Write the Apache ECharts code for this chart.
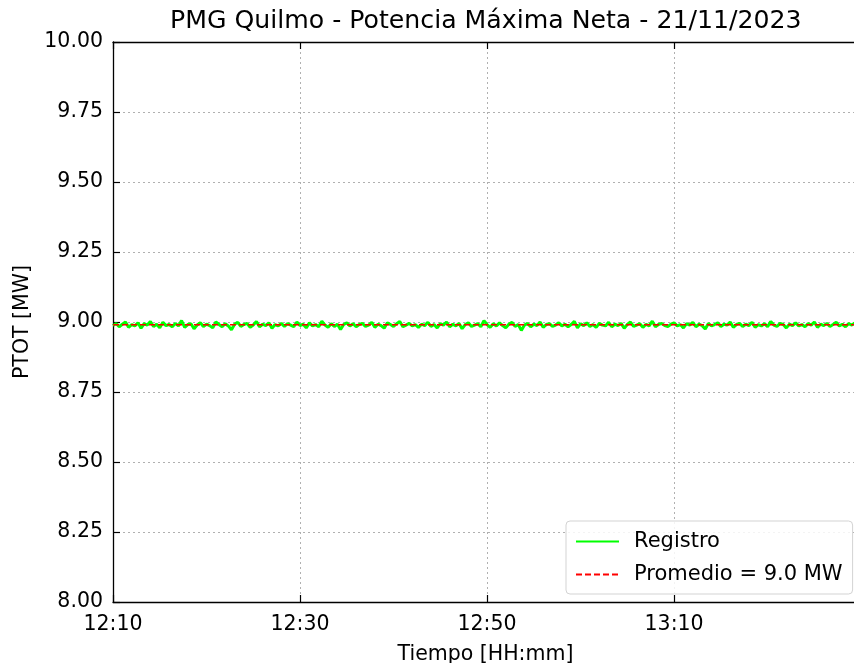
<!DOCTYPE html>
<html>
<head>
<meta charset="utf-8">
<script src="https://cdn.jsdelivr.net/npm/echarts@6/dist/echarts.min.js"></script>
<style>html,body{margin:0;padding:0;background:#fff}#c{width:854px;height:663px}</style>
</head>
<body>
<div id="c"></div>
<script>
// Time: minutes after 12:10, one sample every 20 s
const sampleStepMin = 1 / 3;
const xTickLabels = ['12:10', '12:30', '12:50', '13:10'];
const yTicks = [8.00, 8.25, 8.50, 8.75, 9.00, 9.25, 9.50, 9.75, 10.00];
const promedio = 8.99;
const promedioLabel = 'Promedio = 9.0 MW';
const registro = [
8.987,8.995,8.983,8.992,9.000,8.981,8.991,8.986,8.997,8.978,8.994,8.989,9.002,8.984,8.992,8.979,8.999,8.987,8.991,8.983,
8.995,8.986,9.005,8.981,8.991,8.994,8.976,8.989,8.997,8.984,8.992,8.987,8.979,9.000,8.991,8.983,8.994,8.986,8.972,8.992,
8.999,8.984,8.991,8.995,8.981,8.989,9.002,8.983,8.992,8.987,8.997,8.978,8.991,8.986,8.995,8.984,8.994,8.989,8.983,9.000,
8.987,8.992,8.979,8.997,8.986,8.991,8.983,9.003,8.989,8.981,8.994,8.984,8.992,8.973,8.991,8.997,8.986,8.994,8.983,8.991,
8.995,8.984,8.989,8.999,8.981,8.992,8.987,8.978,8.997,8.991,8.984,8.994,9.002,8.983,8.989,8.995,8.986,8.991,8.981,8.992,
8.987,8.999,8.984,8.991,8.979,8.994,8.989,9.000,8.983,8.992,8.986,8.995,8.976,8.991,8.997,8.984,8.989,8.994,8.983,9.005,
8.991,8.981,8.994,8.986,8.997,8.987,8.979,8.992,8.999,8.984,8.991,8.970,8.989,8.995,8.983,8.992,8.987,9.000,8.981,8.991,
8.994,8.984,8.989,8.997,8.986,8.992,8.983,8.991,9.002,8.979,8.994,8.987,8.997,8.984,8.991,8.981,8.995,8.989,8.986,8.999,
8.983,8.992,8.987,8.995,8.978,8.991,9.000,8.984,8.989,8.994,8.981,8.992,8.986,9.003,8.983,8.991,8.995,8.987,8.984,8.992,
8.997,8.986,8.991,8.979,8.994,8.989,8.999,8.983,8.992,8.987,8.975,8.995,8.986,8.991,8.997,8.984,8.992,8.989,9.000,8.981,
8.991,8.995,8.984,8.992,8.987,8.999,8.981,8.991,8.986,8.994,8.983,9.002,8.989,8.984,8.995,8.991,8.979,8.992,8.987,8.997,
8.986,8.991,8.983,8.994,8.989,9.000,8.981,8.992,8.987,8.995,8.984,8.991,8.999,8.986,8.992,8.983,8.994,8.989,8.997,8.987
];

const regData = registro.map((v, i) => [i * sampleStepMin, v]);
const xMax = (registro.length - 1) * sampleStepMin;
const avgData = [[0, promedio], [xMax, promedio]];

const FONT = 'DejaVu Sans';
const chart = echarts.init(document.getElementById('c'), null, {renderer: 'canvas'});
const xCommon = {
  type: 'value', min: 0, max: xMax, interval: 20,
  axisLine: {show: true, lineStyle: {color: '#000', width: 1.3}},
  axisTick: {show: true, inside: true, length: 7, lineStyle: {color: '#000', width: 1.2}}
};
chart.setOption({
  animation: false,
  backgroundColor: '#fff',
  title: {
    text: 'PMG Quilmo - Potencia Máxima Neta - 21/11/2023',
    left: 170, top: 9, padding: 0,
    textStyle: {fontFamily: FONT, fontSize: 25.2, fontWeight: 'normal', color: '#000'}
  },
  grid: {left: 113, top: 42, width: 745, height: 560, containLabel: false, outerBoundsMode: 'none'},
  legend: {
    orient: 'vertical', left: 566, top: 521,
    padding: [10, 10, 9, 9], itemGap: 12,
    itemWidth: 43, itemHeight: 14,
    backgroundColor: 'rgba(255,255,255,0.85)', borderColor: '#d3d3d3', borderWidth: 1, borderRadius: 4,
    itemStyle: {opacity: 0},
    lineStyle: {opacity: 1},
    textStyle: {fontFamily: FONT, fontSize: 21, color: '#000', padding: [0, 0, 0, 10]},
    data: ['Registro', promedioLabel]
  },
  xAxis: [
    Object.assign({}, xCommon, {
      position: 'bottom',
      name: 'Tiempo [HH:mm]', nameLocation: 'middle', nameGap: 42,
      nameTextStyle: {fontFamily: FONT, fontSize: 20.5, color: '#000'},
      axisLabel: {
        fontFamily: FONT, fontSize: 20.5, color: '#000', margin: 12, showMaxLabel: false,
        formatter: v => (Math.abs(v / 20 - Math.round(v / 20)) < 1e-6 ? (xTickLabels[Math.round(v / 20)] || '') : '')
      },
      splitLine: {show: true, lineStyle: {color: '#b0b0b0', type: [2, 3], width: 1}}
    }),
    Object.assign({}, xCommon, {
      position: 'top', axisLabel: {show: false}, splitLine: {show: false}
    })
  ],
  yAxis: {
    type: 'value', min: yTicks[0], max: yTicks[yTicks.length - 1], interval: 0.25,
    name: 'PTOT [MW]', nameLocation: 'middle', nameGap: 76, nameRotate: 90,
    nameTextStyle: {fontFamily: FONT, fontSize: 20.5, color: '#000'},
    axisLine: {show: true, lineStyle: {color: '#000', width: 1.3}},
    axisTick: {show: true, inside: true, length: 7, lineStyle: {color: '#000', width: 1.2}},
    axisLabel: {fontFamily: FONT, fontSize: 20.5, color: '#000', margin: 10, formatter: v => v.toFixed(2)},
    splitLine: {show: true, lineStyle: {color: '#b0b0b0', type: [2, 3], width: 1}}
  },
  series: [
    {
      name: 'Registro', type: 'line', data: regData, showSymbol: false, symbol: 'none',
      lineStyle: {color: '#00ff00', width: 3}, itemStyle: {color: '#00ff00'}, z: 2
    },
    {
      name: promedioLabel, type: 'line', data: avgData, showSymbol: false, symbol: 'none',
      lineStyle: {color: '#ff0000', width: 1.6, type: [6, 3]}, itemStyle: {color: '#ff0000'}, z: 3
    }
  ]
});
</script>
</body>
</html>
